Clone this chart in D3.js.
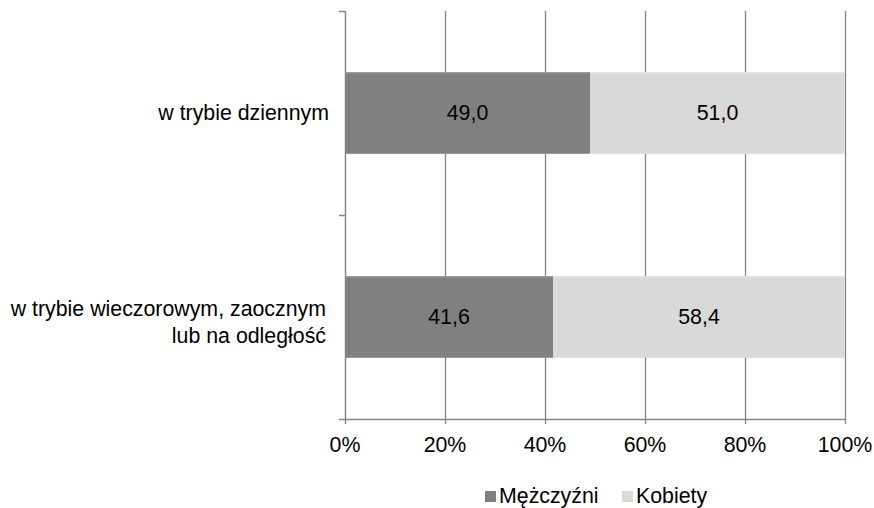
<!DOCTYPE html>
<html>
<head>
<meta charset="utf-8">
<script src="https://cdn.jsdelivr.net/npm/d3@7"></script>
<style>
body{margin:0;background:#fff;}
text{font-family:"Liberation Sans",Arial,sans-serif;}
</style>
</head>
<body>
<svg id="c" width="874" height="508"></svg>
<script>
const categories = ["w trybie dziennym", "w trybie wieczorowym, zaocznym|lub na odległość"];
const men = [49.0, 41.6];
const women = [51.0, 58.4];
const seriesNames = ["Mężczyźni", "Kobiety"];
const seriesColors = ["#808080", "#d9d9d9"];
const edgeColors = ["#a0a0a0", "#e6e6e6"];
const xTicks = [0, 20, 40, 60, 80, 100];

const FS = 21.33;
const svg = d3.select("#c");
const m = {l:345, r:845, t:11, b:419};
const x = d3.scaleLinear().domain([0,100]).range([m.l, m.r]);
const y = d3.scaleBand().domain(categories).range([m.t, m.b]).padding(0);
const barH = y.bandwidth()*0.4;
const fmt = v => v.toFixed(1).replace(".", ",");

// gridlines
svg.append("g").selectAll("line").data(xTicks.slice(1)).join("line")
  .attr("x1", d=>x(d)+0.5).attr("x2", d=>x(d)+0.5)
  .attr("y1", m.t).attr("y2", m.b+5)
  .attr("stroke", "#868686").attr("stroke-width", 1.3);

// bars
const stacked = categories.map((c,i)=>[{c, x0:0, x1:men[i], s:0, v:men[i]},{c, x0:men[i], x1:men[i]+women[i], s:1, v:women[i]}]).flat();
const g = svg.append("g");
g.selectAll("rect").data(stacked).join("rect")
  .attr("x", d=>x(d.x0)).attr("width", d=>x(d.x1)-x(d.x0))
  .attr("y", d=>y(d.c)+(y.bandwidth()-barH)/2).attr("height", barH)
  .attr("fill", d=>seriesColors[d.s]);
g.selectAll("line").data(stacked).join("line")
  .attr("x1", d=>x(d.x0)).attr("x2", d=>x(d.x1))
  .attr("y1", d=>y(d.c)+(y.bandwidth()-barH)/2+0.5).attr("y2", d=>y(d.c)+(y.bandwidth()-barH)/2+0.5)
  .attr("stroke", d=>edgeColors[d.s]).attr("stroke-width",1);
g.selectAll("text").data(stacked).join("text")
  .attr("x", d=>(x(d.x0)+x(d.x1))/2)
  .attr("y", d=>y(d.c)+y.bandwidth()/2)
  .attr("dy", "0.35em").attr("text-anchor","middle")
  .attr("font-size", FS).attr("fill","#000")
  .text(d=>fmt(d.v));

// left axis
const yTickPos = [m.t, ...categories.map(c=>y(c)+y.bandwidth())];
svg.append("line").attr("x1", m.l+0.5).attr("x2", m.l+0.5).attr("y1", m.t).attr("y2", m.b+5)
  .attr("stroke","#868686").attr("stroke-width",1.5);
svg.append("g").selectAll("line").data(yTickPos).join("line")
  .attr("x1", m.l-6).attr("x2", m.l).attr("y1", d=>Math.round(d)+0.5).attr("y2", d=>Math.round(d)+0.5)
  .attr("stroke","#868686").attr("stroke-width",1.5);
// bottom axis line
svg.append("line").attr("x1", m.l).attr("x2", m.r+1).attr("y1", m.b+0.5).attr("y2", m.b+0.5)
  .attr("stroke","#868686").attr("stroke-width",1.5);

// x tick labels
svg.append("g").selectAll("text").data(xTicks).join("text")
  .attr("x", d=>x(d)).attr("y", 452).attr("text-anchor","middle")
  .attr("font-size", FS).attr("fill","#000").text(d=>d+"%");

// category labels
categories.forEach(c=>{
  const lines = c.split("|");
  const cy = y(c)+y.bandwidth()/2;
  if (lines.length === 1) {
    svg.append("text").attr("x", 329).attr("y", cy).attr("dy","0.35em")
      .attr("text-anchor","end").attr("font-size",FS).attr("fill","#000").text(lines[0]);
  } else {
    lines.forEach((ln,j)=>{
      svg.append("text").attr("x", 326).attr("y", cy - 1 + j*27)
        .attr("text-anchor","end").attr("font-size",FS).attr("fill","#000").text(ln);
    });
  }
});

// legend
const legX = [485, 622];
seriesNames.forEach((n,i)=>{
  svg.append("rect").attr("x", legX[i]).attr("y", 491).attr("width", 11).attr("height", 11).attr("fill", seriesColors[i]);
  svg.append("text").attr("x", legX[i]+14).attr("y", 503).attr("font-size",FS).attr("fill","#000").text(n);
});
</script>
</body>
</html>
